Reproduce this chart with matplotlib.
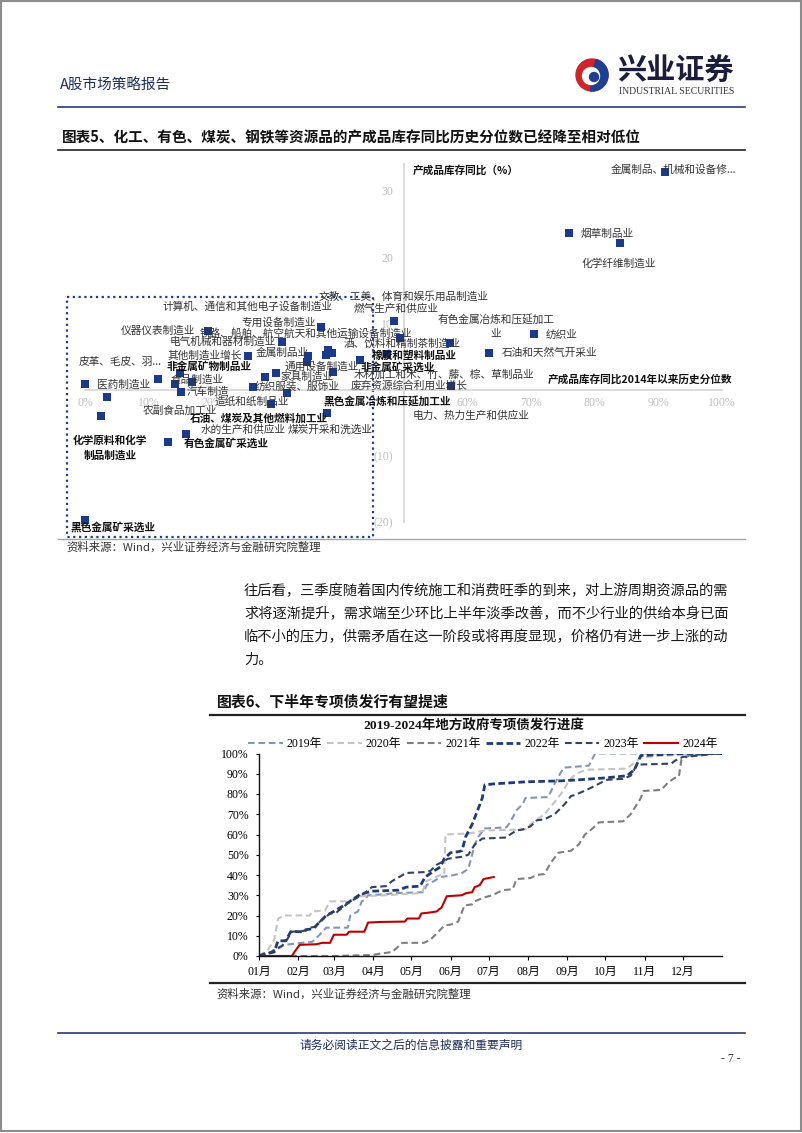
import numpy as np
import matplotlib.pyplot as plt
from matplotlib.patches import Rectangle, Circle, Wedge

W, H = 802, 1133
plt.rcParams['font.family'] = ['Noto Sans CJK SC', 'DejaVu Sans']
SERIF = ['Liberation Serif', 'Noto Sans CJK SC']
NAVY = '#1b3a8c'

# ---------------- 图表5: 产成品库存同比 vs 历史分位数 ----------------
industry = [
    '金属制品、机械和设备修...', '烟草制品业', '化学纤维制造业', '纺织业', '石油和天然气开采业',
    '有色金属冶炼和压延加工\n业', '文教、工美、体育和娱乐用品制造业', '燃气生产和供应业',
    '计算机、通信和其他电子设备制造业', '专用设备制造业', '仪器仪表制造业',
    '铁路、船舶、航空航天和其他运输设备制造业', '电气机械和器材制造业', '酒、饮料和精制茶制造业',
    '其他制造业增长', '金属制品业', '皮革、毛皮、羽...', '非金属矿物制品业', '橡胶和塑料制品业',
    '通用设备制造业', '非金属矿采选业', '家具制造业', '木材加工和木、竹、藤、棕、草制品业',
    '医药制造业', '食品制造业', '纺织服装、服饰业', '废弃资源综合利用业增长', '汽车制造',
    '造纸和纸制品业', '黑色金属冶炼和压延加工业', '农副食品加工业', '电力、热力生产和供应业',
    '石油、煤炭及其他燃料加工业', '水的生产和供应业', '煤炭开采和洗选业',
    '化学原料和化学\n制品制造业', '有色金属矿采选业', '黑色金属矿采选业',
]
pct_rank = [91.0, 76.0, 84.0, 70.5, 63.4, 57.3, 48.5, 38.8, 38.1, 37.0, 19.3, 49.5, 30.9, 37.8,
            25.6, 35.0, 11.5, 14.9, 47.4, 38.9, 43.2, 30.0, 28.3, 0.0, 16.8, 26.4, 57.5, 15.1,
            29.2, 31.7, 3.5, 14.1, 38.0, 15.9, 34.9, 2.5, 13.0, 0.0]
inv_yoy = [32.9, 23.7, 22.1, 8.4, 5.5, 7.0, 10.4, 5.5, 6.0, 9.5, 8.9, 7.8, 7.2, 5.2,
           5.0, 5.1, 1.6, 2.5, 5.4, 2.7, 4.5, 2.5, 1.9, 0.8, 1.1, 0.4, 0.5, -0.4,
           -2.2, -0.5, -1.1, 0.8, -3.5, -6.7, 4.2, -4.0, -7.9, -19.7]
bold_names = {'非金属矿物制品业', '橡胶和塑料制品业', '非金属矿采选业', '黑色金属冶炼和压延加工业',
              '石油、煤炭及其他燃料加工业', '化学原料和化学\n制品制造业', '有色金属矿采选业',
              '黑色金属矿采选业'}
# label offsets from marker (pixels, right / up)
label_offsets = [(9, 2), (38, -1), (-1, -20), (28, -1), (61, 0), (46, 17), (10, 24), (64, 44),
                 (-80, 43), (-42, 4), (-50, 0), (-94, 5), (-59, 0), (76, 12), (-43, 1), (-26, 3),
                 (-38, 17), (29, 6), (27, -2), (-11, 5), (37, -8), (31, -4), (179, 2), (39, 0),
                 (5, 3), (44, 0), (-42, 1), (27, 1), (-19, 2), (100, -9), (73, -14), (296, -31),
                 (-68, -6), (57, 4), (23, -68), (9, -32), (58, -1), (28, -7)]

# ---------------- 图表6: 专项债发行进度 (日序, %) ----------------
d2019 = [0, 7, 12, 16, 20, 34, 42, 47, 53, 70, 72, 78, 81, 83, 86, 100, 105, 130, 132, 138,
         143, 149, 154, 160, 165, 168, 170, 173, 178, 195, 198, 203, 208, 210, 228, 233, 240, 260, 265, 365]
v2019 = [0, 1, 2, 4, 5.5, 6.5, 7, 10, 14, 14, 20, 22, 27, 27.5, 30, 30.5, 31, 31.5, 35, 37,
         39, 39.5, 40, 41, 43, 50, 55, 59, 63, 63.5, 66, 72, 75, 78, 78.5, 85, 93, 94, 100, 100]
d2020 = [0, 7, 12, 15, 20, 40, 42, 52, 56, 70, 80, 100, 125, 129, 132, 143, 146, 147, 165, 170,
         178, 210, 214, 225, 233, 238, 245, 250, 258, 290, 295, 301, 320, 365]
v2020 = [0, 3, 8, 18.5, 20, 20, 22, 22.5, 27, 27, 29.5, 30, 31, 32, 37, 40, 40, 60, 60.5, 61,
         62, 62.5, 65, 70, 76, 80, 87, 90, 92, 92.5, 95, 98, 99, 100]
d2021 = [0, 60, 89, 94, 105, 113, 130, 135, 140, 146, 151, 157, 162, 168, 170, 178, 184, 192, 200, 203,
         214, 219, 225, 230, 236, 246, 252, 257, 263, 268, 287, 293, 301, 303, 317, 323, 328, 331, 333, 339, 361, 365]
v2021 = [0, 0, 0.5, 1, 2, 6.5, 6.5, 8, 11, 15, 15.5, 17, 25, 25.5, 27, 29, 30, 32.5, 33, 38,
         38.5, 40, 40.5, 46, 51, 52, 55, 60, 63, 66, 66.5, 70, 78, 81.5, 82, 86, 88, 88.5, 97, 99, 100, 100]
d2022 = [0, 4, 12, 15, 21, 25, 34, 37, 43, 45, 53, 59, 67, 74, 80, 89, 110, 116, 127, 131,
         138, 143, 146, 151, 157, 160, 163, 168, 173, 176, 178, 185, 210, 238, 252, 274, 290, 296, 301, 334, 365]
v2022 = [0, 1, 2, 7.5, 7.5, 12, 12, 13, 13.5, 15, 20, 22, 25, 28, 30.5, 32, 32.5, 34, 34.5, 39,
         42, 44, 48, 51, 51.5, 52, 59, 65, 73, 78, 84.5, 85, 86, 86.5, 87, 88, 89, 92, 99, 100, 100]
d2023 = [0, 7, 12, 18, 21, 26, 37, 40, 45, 48, 56, 61, 64, 70, 83, 89, 100, 105, 116, 132,
         135, 140, 149, 154, 160, 165, 170, 176, 195, 198, 203, 208, 214, 219, 225, 233, 241, 246, 249, 260,
         274, 287, 293, 298, 325, 328, 334, 347, 361, 365]
v2023 = [0, 1, 3, 5, 7, 12, 12.5, 14, 14.5, 17, 21, 21.5, 23, 26, 31, 34, 34.5, 37, 41, 41.5,
         42, 45, 48, 48.5, 49, 50, 55, 58, 58.5, 60, 62, 62.5, 64, 67, 67.5, 70, 75, 79, 79.5, 82.5,
         87, 87.5, 89, 94.5, 95, 96.5, 98.3, 99, 100, 100]
d2024 = [0, 26, 28, 32, 45, 50, 56, 59, 69, 71, 83, 86, 95, 115, 117, 126, 128, 135, 140, 144,
         148, 160, 163, 168, 170, 174, 177, 181, 185]
v2024 = [0, 0, 2, 5.5, 5.8, 6.5, 6.5, 10.5, 10.5, 12, 12, 16.5, 16.8, 17, 18.5, 18.5, 21, 21.5, 22, 24,
         29.5, 30, 31, 31.5, 34, 35, 38, 38.5, 39]
month_start = [0, 31, 59, 90, 120, 151, 181, 212, 243, 273, 304, 334]
month_labels = ['01月', '02月', '03月', '04月', '05月', '06月', '07月', '08月', '09月', '10月', '11月', '12月']

paragraph = [
    '往后看，三季度随着国内传统施工和消费旺季的到来，对上游周期资源品的需',
    '求将逐渐提升，需求端至少环比上半年淡季改善，而不少行业的供给本身已面',
    '临不小的压力，供需矛盾在这一阶段或将再度显现，价格仍有进一步上涨的动',
    '力。',
]

fig = plt.figure(figsize=(W / 100, H / 100), dpi=100)
pg = fig.add_axes([0, 0, 1, 1])
pg.set_xlim(0, W)
pg.set_ylim(H, 0)
pg.axis('off')

# 页面框 / 页眉
pg.add_patch(Rectangle((1, 1), W - 2, H - 3, fill=False, ec='#8c8c8c', lw=1.5))
pg.text(60, 86, 'A股市场策略报告', fontsize=10.5, color='#1f2d5c', va='center')
pg.add_patch(Circle((592, 75), 16, color='#d2232a'))
pg.add_patch(Wedge((592, 75), 16, -75, 95, color='#1d3f94'))
pg.add_patch(Circle((591, 76), 8.5, color='white'))
pg.add_patch(Circle((594, 77), 4.5, color='#1d3f94'))
pg.text(617, 71, '兴业证券', fontsize=21, fontweight='bold', color='#1c1c3c', va='center')
pg.text(619, 92, 'INDUSTRIAL SECURITIES', family=SERIF, fontsize=7, color='#333333', va='center')
pg.plot([58, 745], [107, 107], color='#2a3a7a', lw=1.2)

pg.text(62, 137, '图表5、化工、有色、煤炭、钢铁等资源品的产成品库存同比历史分位数已经降至相对低位',
        fontsize=10.5, fontweight='bold', va='center', color='#111111')
pg.plot([58, 745], [150, 150], color='#222222', lw=1.2)

# 虚线框
pg.add_patch(Rectangle((67, 297), 306, 240, fill=False, ec='#1f3a8f', lw=1.6, ls=(0, (1, 1.6))))
pg.plot([58, 745], [539, 539], color='#a6a6a6', lw=1)
pg.text(66, 547, '资料来源：Wind，兴业证券经济与金融研究院整理', fontsize=8.2, color='#333333', va='center')

# ---- scatter ----
ax1 = fig.add_axes([85 / W, 1 - 522 / H, 637 / W, (522 - 164.5) / H])
ax1.patch.set_alpha(0)
ax1.set_xlim(0, 100)
ax1.set_ylim(-20, 34)
for s in ['top', 'right']:
    ax1.spines[s].set_visible(False)
ax1.spines['left'].set_position(('data', 50))
ax1.spines['bottom'].set_position(('data', 0))
for s in ['left', 'bottom']:
    ax1.spines[s].set_color('#d9d9d9')
    ax1.spines[s].set_linewidth(1.3)
xt = np.arange(0, 101, 10)
ax1.set_xticks(xt)
# 30%-50% 的刻度标签在原图中被数据标签遮住
ax1.set_xticklabels(['' if 30 <= v <= 50 else f'{v}%' for v in xt], family=SERIF, fontsize=8.5,
                    color='#bfbfbf')
yt = [-20, -10, 0, 10, 20, 30]
ax1.set_yticks(yt)
ax1.set_yticklabels([f'({-v})' if v < 0 else ('' if v == 0 else f'{v}') for v in yt], family=SERIF,
                    fontsize=8.5, color='#bfbfbf')
ax1.tick_params(axis='x', length=0, pad=5)
ax1.tick_params(axis='y', length=0, pad=7.5)

ax1.scatter(pct_rank, inv_yoy, marker='s', s=30, c=NAVY, zorder=3, clip_on=False, linewidths=0)
for name, x, y, (dx, dy) in zip(industry, pct_rank, inv_yoy, label_offsets):
    bold = name in bold_names
    ax1.annotate(name, (x, y), xytext=(dx, dy), textcoords='offset pixels', ha='center', va='center',
                 multialignment='center', fontsize=7.7, fontweight='bold' if bold else 'normal',
                 color='#111111' if bold else '#333333', linespacing=1.6, annotation_clip=False, zorder=4)

pg.text(413, 170, '产成品库存同比（%）', fontsize=7.7, fontweight='bold', va='center', color='#111111')
pg.text(732, 379, '产成品库存同比2014年以来历史分位数', fontsize=7.7, fontweight='bold', va='center',
        ha='right', color='#111111')

# 正文
for i, line in enumerate(paragraph):
    pg.text(244, 591 + 23 * i, line, fontsize=10.3, va='center', color='#1a1a1a')

pg.text(217, 702, '图表6、下半年专项债发行有望提速', fontsize=10.7, fontweight='bold', va='center', color='#111111')
pg.plot([210, 745], [715, 715], color='#222222', lw=1.6)
pg.text(474, 726, '2019-2024年地方政府专项债发行进度', family=SERIF, fontsize=9.7, fontweight='bold',
        ha='center', va='center', color='#111111')

# ---- 专项债 ----
ax2 = fig.add_axes([259 / W, 1 - 956 / H, (722 - 259) / W, (956 - 753.5) / H])
ax2.patch.set_alpha(0)
series = [
    ('2019年', d2019, v2019, '#8497b0', 1.5, (0, (3.2, 1.8))),
    ('2020年', d2020, v2020, '#c4c4c4', 1.5, (0, (3.2, 1.8))),
    ('2021年', d2021, v2021, '#7f7f7f', 1.5, (0, (3.2, 1.8))),
    ('2022年', d2022, v2022, '#1f3a7a', 2.0, (0, (2.4, 1.2))),
    ('2023年', d2023, v2023, '#36415e', 1.5, (0, (3.2, 1.8))),
    ('2024年', d2024, v2024, '#c00000', 1.5, '-'),
]
for name, d, v, c, lw, ls in series:
    ax2.plot(d, v, color=c, lw=lw, ls=ls, label=name)
ax2.set_xlim(0, 365)
ax2.set_ylim(0, 100)
for s in ['top', 'right']:
    ax2.spines[s].set_visible(False)
for s in ['left', 'bottom']:
    ax2.spines[s].set_color('#111111')
    ax2.spines[s].set_linewidth(1.0)
ax2.set_xticks(month_start)
ax2.set_xticklabels(month_labels, family=SERIF, fontsize=8.5)
ax2.set_yticks(np.arange(0, 101, 10))
ax2.set_yticklabels([f'{v}%' for v in range(0, 101, 10)], family=SERIF, fontsize=8.5)
ax2.tick_params(axis='x', length=3, width=0.8, pad=4)
ax2.tick_params(axis='y', length=2.5, width=0.8, pad=5)
ax2.legend(loc='center', bbox_to_anchor=(483 / W, 1 - 744.5 / H), bbox_transform=fig.transFigure,
           ncol=6, frameon=False, handlelength=2.9, handletextpad=0.35, columnspacing=0.45,
           borderpad=0, prop={'family': SERIF, 'size': 8.5})

pg.plot([210, 745], [983, 983], color='#222222', lw=1.6)
pg.text(216, 994, '资料来源：Wind，兴业证券经济与金融研究院整理', fontsize=8.2, color='#333333', va='center')

# 页脚
pg.plot([58, 745], [1033, 1033], color='#2a3a7a', lw=1.2)
pg.text(411, 1045, '请务必阅读正文之后的信息披露和重要声明', fontsize=8.5, color='#1f2d5c', ha='center', va='center')
pg.text(741, 1059, '- 7 -', family=SERIF, fontsize=8.5, color='#333333', ha='right', va='center')

fig.savefig('out.png', dpi=100)
